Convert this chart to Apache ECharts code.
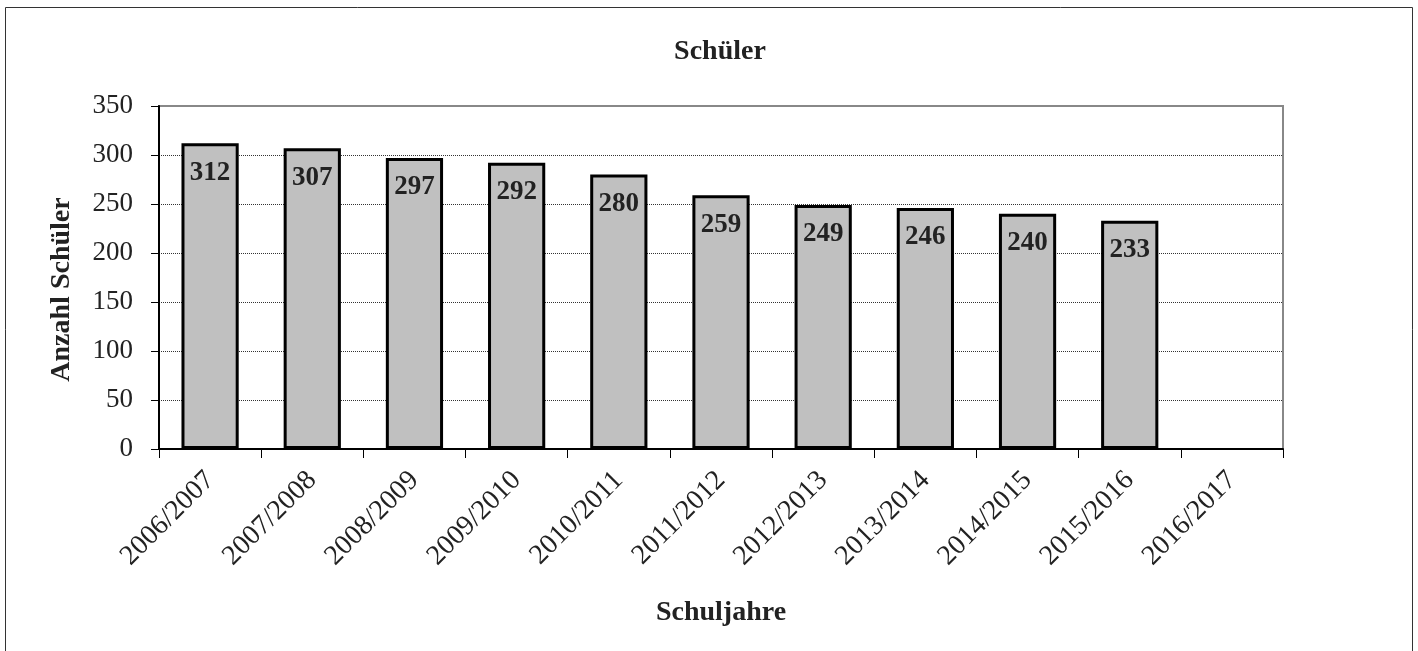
<!DOCTYPE html>
<html>
<head>
<meta charset="utf-8">
<script src="https://cdn.jsdelivr.net/npm/echarts@6/dist/echarts.min.js"></script>
<style>
  html, body { margin: 0; padding: 0; background: #fff; }
  #chart { width: 1418px; height: 651px; }
</style>
</head>
<body>
<div id="chart"></div>
<script>
  // Schuljahre und Schülerzahlen
  const schuljahre = ['2006/2007', '2007/2008', '2008/2009', '2009/2010', '2010/2011',
    '2011/2012', '2012/2013', '2013/2014', '2014/2015', '2015/2016', '2016/2017']
  const schueler = [312, 307, 297, 292, 280, 259, 249, 246, 240, 233, null]

  const font = '"Liberation Serif", "DejaVu Serif", serif'
  const textColor = '#222'

  const chart = echarts.init(document.getElementById('chart'))
  chart.setOption({
    animation: false,
    textStyle: { fontFamily: font, color: textColor },
    graphic: [{
      type: 'rect',
      shape: { x: 5.5, y: 7.5, width: 1407, height: 700 },
      style: { fill: 'none', stroke: '#333', lineWidth: 1 },
      silent: true
    }],
    title: {
      text: 'Schüler',
      left: 715,
      textAlign: 'center',
      top: 33,
      textStyle: { fontFamily: font, fontSize: 28, fontWeight: 'bold', color: textColor }
    },
    grid: {
      left: 159,
      right: 135,
      top: 106,
      bottom: 202,
      show: true,
      borderColor: '#888',
      borderWidth: 2
    },
    xAxis: {
      type: 'category',
      data: schuljahre,
      name: 'Schuljahre',
      nameLocation: 'middle',
      nameGap: 150,
      nameTextStyle: { fontFamily: font, fontSize: 28, fontWeight: 'bold', color: textColor },
      axisLine: { lineStyle: { color: '#000', width: 2 } },
      axisTick: { show: true, length: 9, lineStyle: { color: '#000', width: 1 } },
      axisLabel: {
        rotate: 45,
        interval: 0,
        margin: 27,
        fontFamily: font,
        fontSize: 28,
        color: textColor
      },
      splitLine: { show: false }
    },
    yAxis: {
      type: 'value',
      min: 0,
      max: 350,
      interval: 50,
      name: 'Anzahl Schüler',
      nameLocation: 'middle',
      nameGap: 83,
      nameRotate: 90,
      nameTextStyle: {
        fontFamily: font, fontSize: 28, fontWeight: 'bold', color: textColor,
        padding: [0, 24, 0, 0]
      },
      axisLine: { show: true, lineStyle: { color: '#000', width: 2 } },
      axisTick: { show: true, length: 8, lineStyle: { color: '#000', width: 1 } },
      axisLabel: { margin: 26, fontFamily: font, fontSize: 27, color: textColor },
      splitLine: {
        show: true,
        showMinLine: false,
        showMaxLine: false,
        lineStyle: { color: '#333', type: 'dotted', width: 1 }
      }
    },
    series: [{
      type: 'bar',
      data: schueler,
      barWidth: '56%',
      itemStyle: { color: '#c0c0c0', borderColor: '#000', borderWidth: 3 },
      label: {
        show: true,
        position: 'insideTop',
        distance: 16,
        fontFamily: font,
        fontSize: 27,
        fontWeight: 'bold',
        color: textColor
      }
    }]
  })
</script>
</body>
</html>
